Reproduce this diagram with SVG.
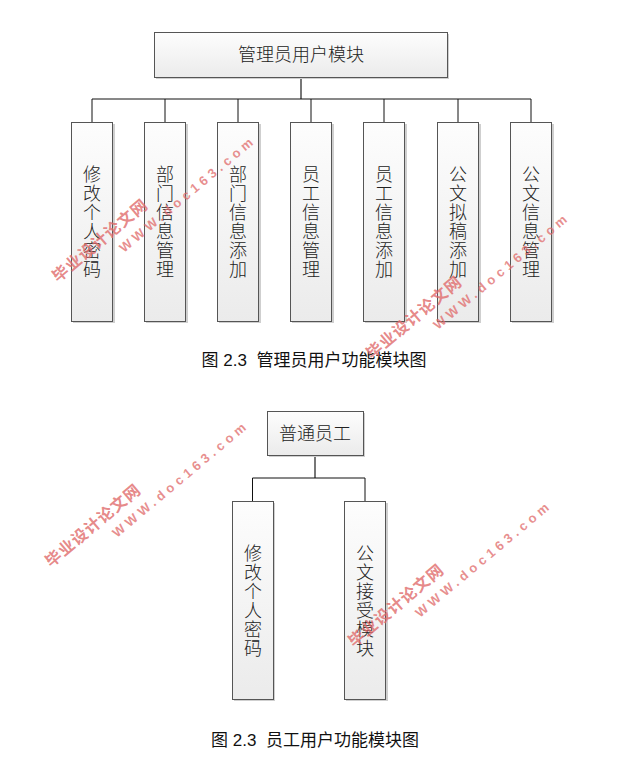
<svg xmlns="http://www.w3.org/2000/svg" width="627" height="773" viewBox="0 0 627 773">
<defs>
<linearGradient id="g" x1="0" y1="0" x2="0" y2="1">
<stop offset="0" stop-color="#fdfdfd"/>
<stop offset="1" stop-color="#ebebeb"/>
</linearGradient>
<g id="wm">
<text class="wm1" x="0" y="0" transform="rotate(-40)">毕业设计论文网</text>
<text class="wm2" x="0" y="0" transform="translate(66,-30) rotate(-40)">WWW.doc163.com</text>
</g>
</defs>
<style>
.sh{fill:#cfcfcf}
.bx{fill:url(#g);stroke:#555;stroke-width:1}
.t{font-family:"Noto Sans CJK SC","Liberation Sans",sans-serif;font-size:18px;fill:#222;font-weight:300}
.tc{text-anchor:middle}
.v{writing-mode:vertical-rl;text-anchor:middle;letter-spacing:1px}
.cap{font-family:"Liberation Sans","Noto Sans CJK SC",sans-serif;font-size:17px;fill:#111;text-anchor:middle;white-space:pre}
.ln{fill:none;stroke:#111;stroke-width:1}
.lg{fill:none;stroke:#777;stroke-width:2}
.wm1{font-family:"Noto Sans CJK SC",sans-serif;font-size:16px;font-weight:bold;fill:#e06a6a;fill-opacity:0.8;letter-spacing:1px}
.wm2{font-family:"Liberation Sans",sans-serif;font-size:13px;font-weight:bold;fill:#e06a6a;fill-opacity:0.75;letter-spacing:4.2px}
</style>
<rect width="627" height="773" fill="#fff"/>

<g id="connectors">
<path class="lg" d="M301,77V99"/>
<path class="ln" d="M92,122V99H531V122M165,99V122M238,99V122M311,99V122M384,99V122M458,99V122"/>
<path class="lg" d="M315,455V478"/>
<path class="ln" d="M252.5,501V478H365V501"/>
</g>

<g id="admin">
<rect class="sh" x="156" y="34" width="293" height="45"/>
<rect class="bx" x="154.5" y="32.5" width="293" height="45"/>
<text class="t tc" x="301" y="60.5">管理员用户模块</text>
</g>

<g id="n1"><rect class="sh" x="73" y="124" width="42" height="199"/><rect class="bx" x="71.5" y="122.5" width="41" height="199"/>
<text class="t v" x="92" y="222">修改个人密码</text></g>
<g id="n2"><rect class="sh" x="146" y="124" width="42" height="199"/><rect class="bx" x="144.5" y="122.5" width="41" height="199"/>
<text class="t v" x="165" y="222">部门信息管理</text></g>
<g id="n3"><rect class="sh" x="219" y="124" width="42" height="199"/><rect class="bx" x="217.5" y="122.5" width="41" height="199"/>
<text class="t v" x="238" y="222">部门信息添加</text></g>
<g id="n4"><rect class="sh" x="292" y="124" width="42" height="199"/><rect class="bx" x="290.5" y="122.5" width="41" height="199"/>
<text class="t v" x="311" y="222">员工信息管理</text></g>
<g id="n5"><rect class="sh" x="365" y="124" width="42" height="199"/><rect class="bx" x="363.5" y="122.5" width="41" height="199"/>
<text class="t v" x="384" y="222">员工信息添加</text></g>
<g id="n6"><rect class="sh" x="439" y="124" width="42" height="199"/><rect class="bx" x="437.5" y="122.5" width="41" height="199"/>
<text class="t v" x="458" y="222">公文拟稿添加</text></g>
<g id="n7"><rect class="sh" x="512" y="124" width="42" height="199"/><rect class="bx" x="510.5" y="122.5" width="41" height="199"/>
<text class="t v" x="531" y="222">公文信息管理</text></g>

<text class="cap" x="314" y="366">图 2.3  管理员用户功能模块图</text>

<g id="staff">
<rect class="sh" x="269" y="413" width="96" height="44"/>
<rect class="bx" x="267.5" y="411.5" width="96" height="44"/>
<text class="t tc" x="315" y="439.5">普通员工</text>
</g>
<g id="s1"><rect class="sh" x="234" y="503" width="41" height="198"/><rect class="bx" x="232.5" y="501.5" width="41" height="198"/>
<text class="t v" x="253" y="601">修改个人密码</text></g>
<g id="s2"><rect class="sh" x="346" y="503" width="42" height="198"/><rect class="bx" x="344.5" y="501.5" width="41" height="198"/>
<text class="t v" x="365" y="601">公文接受模块</text></g>

<text class="cap" x="315" y="746">图 2.3  员工用户功能模块图</text>

<g id="watermarks">
<use href="#wm" transform="translate(58,283)"/>
<use href="#wm" transform="translate(372,360)"/>
<use href="#wm" transform="translate(51,568)"/>
<use href="#wm" transform="translate(354,648)"/>
</g>
</svg>
